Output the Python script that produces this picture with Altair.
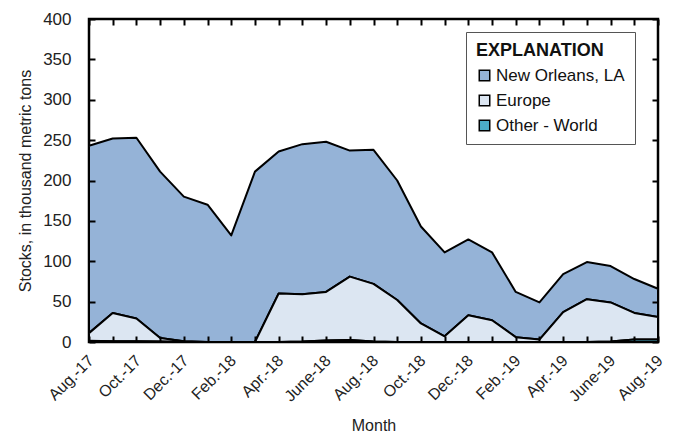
import altair as alt
import pandas as pd

months = ["Aug.-17", "Sept.-17", "Oct.-17", "Nov.-17", "Dec.-17", "Jan.-18", "Feb.-18",
          "Mar.-18", "Apr.-18", "May-18", "June-18", "July-18", "Aug.-18", "Sept.-18",
          "Oct.-18", "Nov.-18", "Dec.-18", "Jan.-19", "Feb.-19", "Mar.-19", "Apr.-19",
          "May-19", "June-19", "July-19", "Aug.-19"]
shown_labels = ["Aug.-17", "Oct.-17", "Dec.-17", "Feb.-18", "Apr.-18", "June-18", "Aug.-18",
                "Oct.-18", "Dec.-18", "Feb.-19", "Apr.-19", "June-19", "Aug.-19"]

new_orleans = [232, 216, 224, 206, 179, 170, 132, 211, 176, 186, 186, 156, 166, 148,
               120, 104, 94, 84, 56, 46, 47, 46, 45, 42, 35]
europe = [9.5, 35, 28, 4.5, 1, 0, 0, 0, 60, 58.5, 60, 78.5, 71.5, 52,
          23, 7, 33, 27, 6, 3, 37, 53, 48.5, 33, 28]
other_world = [1.5, 1, 1, 0.5, 0, 0, 0, 0, 0, 0.5, 2, 2.5, 0.5, 0,
               0, 0, 0, 0, 0, 0, 0, 0, 0.5, 3, 3]

series = ["New Orleans, LA", "Europe", "Other - World"]
colors = ["#95b3d7", "#dce6f2", "#4bacc6"]
stack_rank = {"Other - World": 0, "Europe": 1, "New Orleans, LA": 2}

rows = []
for name, vals in zip(series, [new_orleans, europe, other_world]):
    for m, v in zip(months, vals):
        rows.append({"Month": m, "Series": name, "Value": v, "rank": stack_rank[name]})
df = pd.DataFrame(rows)

FONT = "Liberation Sans, Arial, sans-serif"
label_js = "[" + ",".join("'" + s + "'" for s in shown_labels) + "]"

x_main = alt.X("Month:O", sort=months,
               scale=alt.Scale(type="point", padding=0),
               axis=alt.Axis(title="Month", orient="bottom", offset=-6, domain=False,
                             ticks=True, tickSize=6, tickColor="black", tickWidth=2,
                             labelAngle=-45, labelFontSize=16, labelPadding=10, labelOffset=-4,
                             labelExpr="indexof(" + label_js + ", datum.value) >= 0 ? datum.value : ''",
                             titleFontSize=16, titleFontWeight="normal", titlePadding=13,
                             labelColor="#222", titleColor="#222", zindex=1))
y_main = alt.Y("Value:Q", stack="zero",
               scale=alt.Scale(domain=[0, 400], nice=False),
               axis=alt.Axis(title="Stocks, in thousand metric tons", orient="left", offset=-6,
                             values=list(range(0, 401, 50)), domain=False, grid=False,
                             ticks=True, tickSize=6, tickColor="black", tickWidth=2,
                             labelFontSize=17, labelPadding=18,
                             titleFontSize=16, titleFontWeight="normal", titlePadding=9,
                             labelColor="#222", titleColor="#222", zindex=1))

areas = alt.Chart(df).mark_area(stroke="black", strokeWidth=2, strokeJoin="round").encode(
    x=x_main,
    y=y_main,
    color=alt.Color("Series:N", sort=series,
                    scale=alt.Scale(domain=series, range=colors),
                    legend=alt.Legend(title="EXPLANATION", orient="none", legendX=377, legendY=13,
                                      titleFontSize=18, titleFontWeight="bold", titleColor="#111",
                                      labelFontSize=17, labelColor="#111",
                                      symbolType="square", symbolSize=110,
                                      symbolStrokeColor="black", symbolStrokeWidth=1.5,
                                      fillColor="white", strokeColor="#555", padding=10,
                                      rowPadding=7, titlePadding=7, labelOffset=3,
                                      titleAnchor="start")),
    order=alt.Order("rank:Q", sort="ascending"),
)

mirror = alt.Chart(df).mark_line(opacity=0).encode(
    x=alt.X("Month:O", sort=months, scale=alt.Scale(type="point", padding=0),
            axis=alt.Axis(title=None, orient="top", offset=-6, domain=False, labels=False,
                          ticks=True, tickSize=6, tickColor="black", tickWidth=2, zindex=1)),
    y=alt.Y("Value:Q", stack="zero", scale=alt.Scale(domain=[0, 400], nice=False),
            axis=alt.Axis(title=None, orient="right", offset=-6, domain=False, labels=False,
                          values=list(range(0, 401, 50)), grid=False,
                          ticks=True, tickSize=6, tickColor="black", tickWidth=2, zindex=1)),
    detail="Series:N",
)

chart = alt.layer(areas, mirror).resolve_axis(x="independent", y="independent").properties(
    width=569, height=323,
    autosize=alt.AutoSizeParams(type="none"),
    padding={"left": 81, "top": 11, "right": 7, "bottom": 96},
).configure(font=FONT).configure_view(stroke="black", strokeWidth=2.5)

chart.save("out.html", embed_options={"renderer": "svg", "actions": False})
